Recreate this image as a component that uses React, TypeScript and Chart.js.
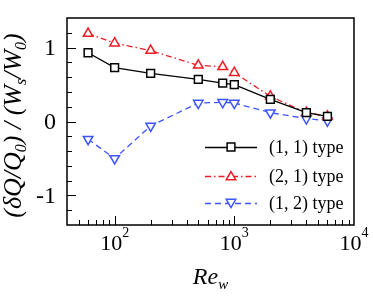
import React, { useEffect, useRef } from "react";
import { Chart, registerables } from "chart.js";

Chart.register(...registerables);

const reValues = [60, 100, 200, 500, 800, 1000, 2000, 4000, 6000];
const type11 = [0.93, 0.73, 0.65, 0.57, 0.52, 0.5, 0.3, 0.12, 0.07];
const type21 = [1.19, 1.06, 0.96, 0.76, 0.74, 0.66, 0.34, 0.12, 0.07];
const type12 = [-0.24, -0.5, -0.06, 0.25, 0.26, 0.25, 0.12, 0.04, 0.01];
const seriesLabels = ["(1, 1) type", "(2, 1) type", "(1, 2) type"];
const yTickValues = [-1, 0, 1];
const xTickExponents = [2, 3, 4];

const SERIF = "'Liberation Serif', 'Times New Roman', serif";

const styles = [
  { color: "#000000", dash: [] as number[], point: "rect", rot: 0 },
  { color: "#ee1c24", dash: [6, 3, 1.5, 3], point: "triangle", rot: 0 },
  { color: "#3d55ff", dash: [6, 4], point: "triangle", rot: 180 },
];

function drawMarker(ctx: CanvasRenderingContext2D, kind: string, rot: number, x: number, y: number, r: number, color: string) {
  ctx.save();
  ctx.beginPath();
  ctx.setLineDash([]);
  ctx.lineWidth = 1.5;
  ctx.strokeStyle = color;
  ctx.fillStyle = "#ffffff";
  if (kind === "rect") {
    const s = r * Math.SQRT1_2;
    ctx.rect(x - s, y - s, 2 * s, 2 * s);
  } else {
    const a = (rot * Math.PI) / 180;
    for (let i = 0; i < 3; i++) {
      const ang = a + (i * 2 * Math.PI) / 3;
      const px = x + Math.sin(ang) * r;
      const py = y - Math.cos(ang) * r;
      if (i === 0) ctx.moveTo(px, py);
      else ctx.lineTo(px, py);
    }
    ctx.closePath();
  }
  ctx.fill();
  ctx.stroke();
  ctx.restore();
}

const framePlugin = {
  id: "frame",
  afterDraw(chart: any) {
    const ctx: CanvasRenderingContext2D = chart.ctx;
    const { left, right, top, bottom } = chart.chartArea;
    const xs = chart.scales.x;
    const ys = chart.scales.y;
    ctx.save();
    ctx.strokeStyle = "#000";
    ctx.lineWidth = 1.5;
    ctx.setLineDash([]);
    ctx.strokeRect(left, top, right - left, bottom - top);

    // y ticks (inward)
    ctx.lineWidth = 1;
    for (let i = -7; i <= 7; i++) {
      const v = i * 0.2;
      const py = Math.round(ys.getPixelForValue(v)) + 0.5;
      if (py <= top + 1 || py >= bottom - 1) continue;
      const major = i % 5 === 0;
      ctx.beginPath();
      ctx.moveTo(left, py);
      ctx.lineTo(left + (major ? 9 : 5), py);
      ctx.stroke();
    }
    // x ticks (inward)
    for (let e = 1; e <= 4; e++) {
      for (let m = 1; m <= 9; m++) {
        const v = m * Math.pow(10, e);
        if (v < xs.min || v > xs.max) continue;
        const px = Math.round(xs.getPixelForValue(v)) + 0.5;
        if (px <= left + 1 || px >= right - 1) continue;
        const major = m === 1;
        ctx.beginPath();
        ctx.moveTo(px, bottom);
        ctx.lineTo(px, bottom - (major ? 9 : 5));
        ctx.stroke();
      }
    }

    // y tick labels
    ctx.fillStyle = "#000";
    ctx.font = `24px ${SERIF}`;
    ctx.textAlign = "right";
    ctx.textBaseline = "middle";
    yTickValues.forEach((v) => {
      ctx.fillText(String(v), left - 11, ys.getPixelForValue(v) + 1);
    });

    // x tick labels: 10^n
    xTickExponents.forEach((e) => {
      const px = xs.getPixelForValue(Math.pow(10, e));
      ctx.font = `22px ${SERIF}`;
      const w1 = ctx.measureText("10").width;
      ctx.font = `14px ${SERIF}`;
      const w2 = ctx.measureText(String(e)).width;
      const x0 = px - (w1 + w2) / 2;
      ctx.textAlign = "left";
      ctx.textBaseline = "alphabetic";
      ctx.font = `22px ${SERIF}`;
      ctx.fillText("10", x0, 250);
      ctx.font = `14px ${SERIF}`;
      ctx.fillText(String(e), x0 + w1, 237);
    });

    // x title: Re_w
    ctx.font = `italic 24px ${SERIF}`;
    const wRe = ctx.measureText("Re").width;
    ctx.font = `italic 15px ${SERIF}`;
    const wW = ctx.measureText("w").width;
    const cx = (left + right) / 2;
    const sx = cx - (wRe + wW) / 2;
    ctx.font = `italic 24px ${SERIF}`;
    ctx.fillText("Re", sx, 284);
    ctx.font = `italic 15px ${SERIF}`;
    ctx.fillText("w", sx + wRe, 289);

    // y title (rotated)
    const parts: [string, boolean][] = [
      ["(\u03B4Q/Q", false],
      ["0", true],
      [") / (W", false],
      ["s", true],
      ["/W", false],
      ["0", true],
      [")", false],
    ];
    const bigF = `italic 26px ${SERIF}`;
    const smallF = `italic 16px ${SERIF}`;
    let total = 0;
    parts.forEach(([t, sub]) => {
      ctx.font = sub ? smallF : bigF;
      total += ctx.measureText(t).width;
    });
    ctx.save();
    ctx.translate(21, (top + bottom) / 2 + 4);
    ctx.rotate(-Math.PI / 2);
    let tx = -total / 2;
    parts.forEach(([t, sub]) => {
      ctx.font = sub ? smallF : bigF;
      ctx.fillText(t, tx, sub ? 5 : 0);
      tx += ctx.measureText(t).width;
    });
    ctx.restore();

    // legend
    const rows = [147, 176, 203];
    rows.forEach((ry, i) => {
      const st = styles[i];
      ctx.save();
      ctx.strokeStyle = st.color;
      ctx.lineWidth = 1.3;
      ctx.setLineDash(st.dash);
      ctx.beginPath();
      ctx.moveTo(205, ry + 0.5);
      ctx.lineTo(257, ry + 0.5);
      ctx.stroke();
      ctx.restore();
      drawMarker(ctx, st.point, st.rot, 231, ry + (st.point === "triangle" ? (st.rot ? -1 : 1) : 0), 5.5, st.color);
      ctx.fillStyle = "#000";
      ctx.font = `18px ${SERIF}`;
      ctx.textAlign = "left";
      ctx.textBaseline = "middle";
      ctx.fillText(seriesLabels[i], 269, ry + 1);
    });
    ctx.restore();
  },
};

export default function App() {
  const ref = useRef<HTMLCanvasElement | null>(null);
  useEffect(() => {
    if (!ref.current) return;
    const series = [type11, type21, type12];
    const chart = new Chart(ref.current, {
      type: "line",
      data: {
        datasets: series.map((vals, i) => ({
          label: seriesLabels[i],
          data: reValues.map((x, j) => ({ x, y: vals[j] })),
          borderColor: styles[i].color,
          borderWidth: 1.3,
          borderDash: styles[i].dash,
          pointStyle: styles[i].point as any,
          pointRotation: styles[i].rot,
          pointRadius: 5.5,
          pointBorderWidth: 1.5,
          pointBackgroundColor: "#ffffff",
          pointBorderColor: styles[i].color,
          fill: false,
          tension: 0,
          order: i,
        })),
      },
      options: {
        responsive: false,
        animation: false,
        devicePixelRatio: 1,
        layout: { padding: { left: 67, right: 19, top: 18, bottom: 74 } },
        plugins: { legend: { display: false }, tooltip: { enabled: false }, title: { display: false } },
        scales: {
          x: { type: "logarithmic", min: 40, max: 10000, display: false },
          y: { type: "linear", min: -1.4, max: 1.4, display: false },
        },
      },
      plugins: [framePlugin],
    });
    return () => chart.destroy();
  }, []);
  return (
    <div style={{ position: "fixed", left: 0, top: 0, width: 373, height: 299, background: "#fff" }}>
      <canvas ref={ref} width={373} height={299} style={{ width: 373, height: 299, display: "block" }} />
    </div>
  );
}
